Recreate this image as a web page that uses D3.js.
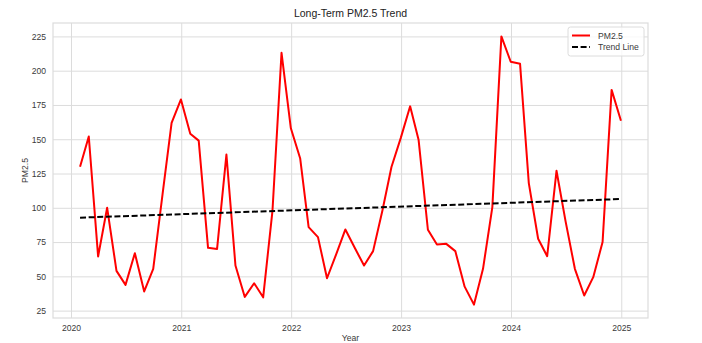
<!DOCTYPE html>
<html lang="en">
<head>
<meta charset="UTF-8">
<title>Long-Term PM2.5 Trend</title>
<style>
  body { margin: 0; background: #fff; }
  text { font-family: "Liberation Sans", Arial, sans-serif; }
</style>
</head>
<body>
<div id="chart"></div>
<script src="https://d3js.org/d3.v7.min.js"></script>
<script>

// monthly PM2.5 readings, month-end dates Jan 2020 .. Dec 2024
var firstMonth = "2020-01", lastMonth = "2024-12";
var pm25 = [130, 152, 64.5, 100, 54, 43.8, 66.9, 39, 55.5, 110, 162, 179,
            154, 149, 70.8, 70, 138.8, 57.9, 35, 45, 34.7, 98, 213, 158,
            135.9, 85.9, 78.6, 48.6, 66.4, 84.2, 70.8, 57.9, 68.4, 98, 129.8, 151,
            174, 149.7, 84, 73.2, 73.7, 68.4, 42.5, 29.4, 55.5, 100.5, 225, 206.5,
            205, 118, 77.4, 64.7, 127, 90.3, 55.5, 36, 49.4, 75, 186, 163.5];
// trend line end values
var trendEnds = [92.8, 106.4];
var yTicks = [25, 50, 75, 100, 125, 150, 175, 200, 225];
var xTickYears = [2020, 2021, 2022, 2023, 2024, 2025];

// month-end dates
var dates = d3.utcMonth.range(new Date(firstMonth + "-01T00:00:00Z"), d3.utcMonth.offset(new Date(lastMonth + "-01T00:00:00Z"), 1))
  .map(function(d) { return new Date(d3.utcMonth.offset(d, 1) - 86400000); });
var data = dates.map(function(d, i) { return {date: d, value: pm25[i]}; });

var W = 702, H = 343;
var margin = {top: 23, right: 54, bottom: 25, left: 53};
var width = W - margin.left - margin.right,
    height = H - margin.top - margin.bottom;

var svg = d3.select("#chart").append("svg")
    .attr("width", W).attr("height", H);
var g = svg.append("g")
    .attr("transform", "translate(" + margin.left + "," + margin.top + ")");

// matplotlib-ish 5% margins
var t0 = dates[0], t1 = dates[dates.length - 1];
var padT = (t1 - t0) * 0.05;
var x = d3.scaleUtc()
  .domain([new Date(+t0 - padT), new Date(+t1 + padT)])
  .range([0, width]);
var yMin = d3.min(pm25), yMax = d3.max(pm25), padY = (yMax - yMin) * 0.05;
var y = d3.scaleLinear()
  .domain([yMin - padY, yMax + padY])
  .range([height, 0]);

var gridColor = "#dcdcdc", textColor = "#3a3a3a";

// grid
var xAxis = g.append("g")
  .attr("transform", "translate(0," + height + ")")
  .call(d3.axisBottom(x)
    .tickValues(xTickYears.map(function(yr) { return new Date(Date.UTC(yr, 0, 1)); }))
    .tickFormat(d3.utcFormat("%Y"))
    .tickSize(-height).tickPadding(7));
var yAxis = g.append("g")
  .call(d3.axisLeft(y).tickValues(yTicks).tickSize(-width).tickPadding(7));

[xAxis, yAxis].forEach(function(ax) {
  ax.select(".domain").remove();
  ax.selectAll(".tick line").attr("stroke", gridColor).attr("stroke-width", 1);
  ax.selectAll(".tick text").attr("fill", textColor)
    .style("font-family", "'Liberation Sans', Arial, sans-serif")
    .style("font-size", "8.6px");
});

// frame
g.append("rect")
  .attr("width", width).attr("height", height)
  .attr("fill", "none").attr("stroke", gridColor).attr("stroke-width", 1.2);

// PM2.5 line
g.append("path")
  .datum(data)
  .attr("fill", "none")
  .attr("stroke", "#ff0000")
  .attr("stroke-width", 2)
  .attr("stroke-linejoin", "round")
  .attr("d", d3.line()
    .x(function(d) { return x(d.date); })
    .y(function(d) { return y(d.value); }));

// trend line
g.append("path")
  .datum([{date: t0, value: trendEnds[0]}, {date: t1, value: trendEnds[1]}])
  .attr("fill", "none")
  .attr("stroke", "#000")
  .attr("stroke-width", 2)
  .style("stroke-dasharray", "6,2.6")
  .attr("d", d3.line()
    .x(function(d) { return x(d.date); })
    .y(function(d) { return y(d.value); }));

// title and labels
svg.append("text")
  .attr("x", margin.left + width / 2).attr("y", 17)
  .attr("text-anchor", "middle")
  .attr("fill", "#222")
  .style("font-size", "10.5px")
  .text("Long-Term PM2.5 Trend");

svg.append("text")
  .attr("x", margin.left + width / 2).attr("y", 341)
  .attr("text-anchor", "middle")
  .attr("fill", textColor)
  .style("font-size", "8.6px")
  .text("Year");

svg.append("text")
  .attr("transform", "translate(28," + (margin.top + height / 2) + ") rotate(-90)")
  .attr("text-anchor", "middle")
  .attr("fill", textColor)
  .style("font-size", "8.6px")
  .text("PM2.5");

// legend
var legend = svg.append("g").attr("transform", "translate(568,27)");
legend.append("rect")
  .attr("width", 76).attr("height", 29).attr("rx", 2.5)
  .attr("fill", "#fff").attr("fill-opacity", 0.8)
  .attr("stroke", gridColor);
var items = [{label: "PM2.5", color: "#ff0000", dash: null},
             {label: "Trend Line", color: "#000", dash: "6,2.6"}];
items.forEach(function(it, i) {
  var yy = 8.5 + i * 11.5;
  legend.append("line")
    .attr("x1", 4).attr("x2", 22).attr("y1", yy).attr("y2", yy)
    .attr("stroke", it.color).attr("stroke-width", 2)
    .style("stroke-dasharray", it.dash);
  legend.append("text")
    .attr("x", 30).attr("y", yy).attr("dy", "0.35em")
    .attr("fill", textColor)
    .style("font-size", "8.6px")
    .text(it.label);
});

</script>
</body>
</html>
